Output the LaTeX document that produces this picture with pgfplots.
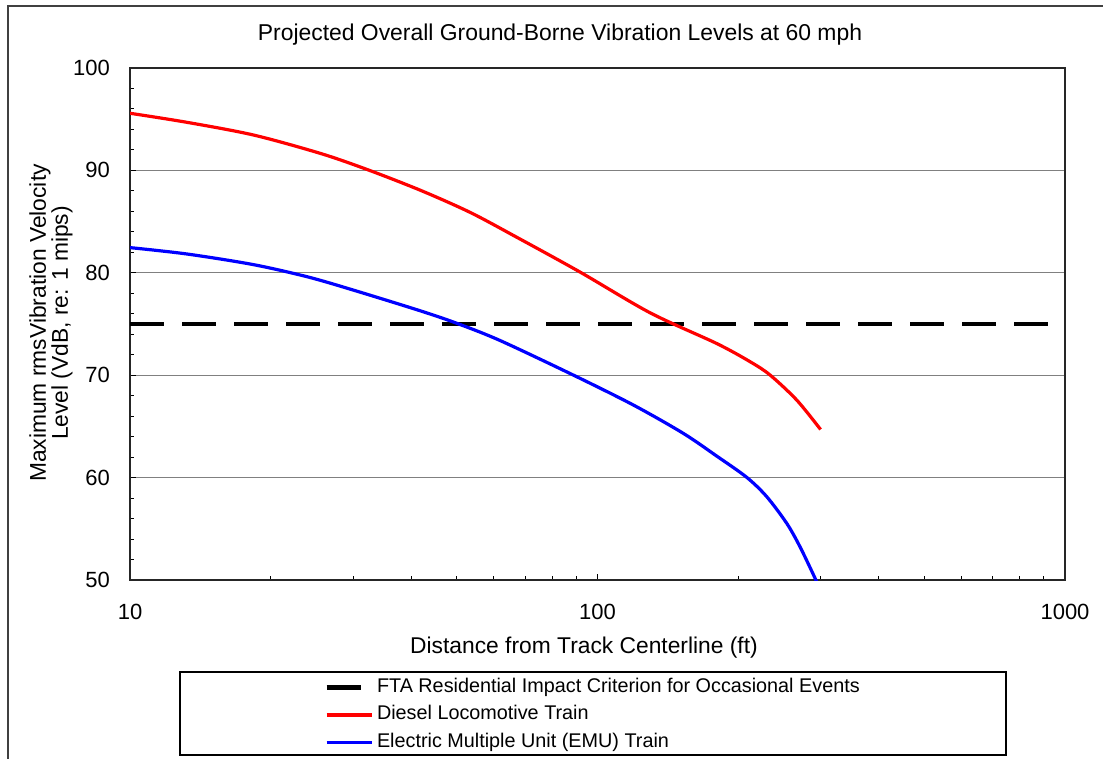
\documentclass[border=0pt]{standalone}
\usepackage{fontspec}
\setmainfont{Liberation Sans}
\usepackage{pgfplots}
\pgfplotsset{compat=1.18}
\definecolor{frame}{HTML}{404040}
\definecolor{gridc}{HTML}{808080}

\begin{document}
\begin{tikzpicture}
% page in reference pixels: 1 px = 0.5pt, y downwards
\begin{scope}[x=0.5pt,y=-0.5pt]
\useasboundingbox (0,0) rectangle (1103,759);
\draw[frame, line width=1pt] (8,759) -- (8,6) -- (1103,6);
\node[anchor=base, font=\fontsize{11.45}{13}\selectfont] at (560,41) {Projected Overall Ground-Borne Vibration Levels at 60 mph};
\node[anchor=base, font=\fontsize{11.4}{13}\selectfont] at (584,653) {Distance from Track Centerline (ft)};
\node[anchor=base, rotate=90, font=\fontsize{11.4}{13}\selectfont] at (46,323) {Maximum rmsVibration Velocity};
\node[anchor=base, rotate=90, font=\fontsize{11.4}{13}\selectfont] at (68,323) {Level (VdB, re: 1 mips)};
\draw[black, line width=0.6pt] (180,672) rectangle (1006,755);
\end{scope}

\begin{axis}[
  at={(65pt,-290pt)}, anchor=south west,
  width=467.5pt, height=256pt, scale only axis,
  xmode=log, xmin=10, xmax=1000, ymin=50, ymax=100,
  xtick={10,100,1000}, xticklabels={10,100,1000},
  ytick={50,60,70,80,90,100}, yticklabels={50,60,70,80,90,100},
  minor ytick={52,54,56,58,62,64,66,68,72,74,76,78,82,84,86,88,92,94,96,98},
  xtick pos=left, ytick pos=left, tick align=inside,
  major tick length=3pt, minor tick length=2pt,
  tick style={black, line width=0.5pt},
  axis line style={black!85, line width=0.6pt},
  ymajorgrids, grid style={gridc, line width=0.5pt},
  tick label style={font=\fontsize{11}{13}\selectfont},
  yticklabel style={xshift=-6.5pt},
  xticklabel style={yshift=-8.5pt},
  legend style={draw=none, fill=none, inner sep=0pt, row sep=2.75pt,
    at={(axis description cs:0.2075,-0.1875)}, anchor=north west,
    font=\fontsize{9.9}{11}\selectfont,
    nodes={text height=7pt, text depth=2pt, inner ysep=1pt, inner xsep=1.5pt}},
  legend cell align=left,
  legend image code/.code={\draw[#1] (0pt,0pt) -- (22.5pt,0pt);},
]
\addplot[black, line width=2.3pt, dash pattern=on 17pt off 9pt] coordinates {(10,75) (1000,75)};
\addplot[red, line width=1.6pt, smooth] coordinates {
(10,95.58) (13.22,94.7) (18.36,93.46) (25.5,91.67) (32.1,90.1) (41.7,88.08)
(53.4,85.9) (67.2,83.47) (91.7,80.08) (129.5,76.1) (179.8,73.1) (212,71.32)
(233.9,70.02) (266.7,67.58) (300,64.7)};
\addplot[blue, line width=1.6pt, smooth] coordinates {
(10,82.46) (13.22,81.84) (18.36,80.8) (24,79.6) (30.0,78.32) (41.7,76.3)
(50.0,75.07) (61.8,73.4) (88.7,70.02) (119.3,67.09) (152.6,64.32)
(179.8,62.11) (208.5,60.03) (230.1,58.14) (254,55.53) (271,53.26)
(292,50.17) (300,48.9)};
\legend{FTA Residential Impact Criterion for Occasional Events, Diesel Locomotive Train, Electric Multiple Unit (EMU) Train}
\end{axis}
\end{tikzpicture}
\end{document}
